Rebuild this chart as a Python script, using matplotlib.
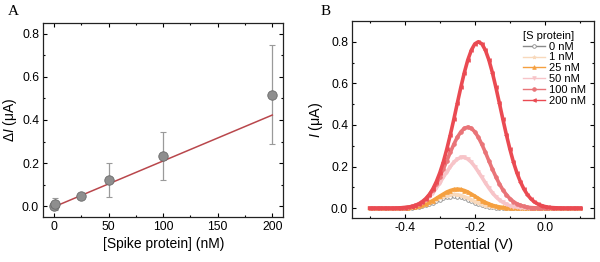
import matplotlib

matplotlib.use("Agg")
import matplotlib.pyplot as plt
import numpy as np

plt.rcParams["font.family"] = ["Liberation Sans", "DejaVu Sans"]
plt.rcParams["mathtext.fontset"] = "custom"
plt.rcParams["mathtext.rm"] = "Liberation Sans"
plt.rcParams["mathtext.it"] = "Liberation Sans:italic"

# panel A: calibration points
conc = [0, 1, 25, 50, 100, 200]
delta_i = [0.0, 0.01, 0.045, 0.122, 0.233, 0.518]
delta_err = [0.01, 0.03, 0.005, 0.078, 0.11, 0.23]
fit_slope = 0.00213
fit_intercept = -0.003

# panel B: DPV curves, sampled every 10 mV from -0.50 to 0.10 V
potential = np.round(np.arange(-0.50, 0.105, 0.01), 2)
labels = ["0 nM", "1 nM", "25 nM", "50 nM", "100 nM", "200 nM"]
cur_0 = [0, 0, 0, 0, 0, 0, 0, 0, 0, 0,
         0, 0.001, 0.003, 0.004, 0.007, 0.010, 0.014, 0.020, 0.026, 0.033,
         0.040, 0.047, 0.052, 0.056, 0.057, 0.056, 0.052, 0.047, 0.040, 0.033,
         0.026, 0.020, 0.014, 0.010, 0.007, 0.004, 0.003, 0.001, 0, 0,
         0, 0, 0, 0, 0, 0, 0, 0, 0, 0,
         0, 0, 0, 0, 0, 0, 0, 0, 0, 0, 0]
cur_1 = [0, 0, 0, 0, 0, 0, 0, 0, 0, 0,
         0.001, 0.002, 0.004, 0.006, 0.009, 0.013, 0.018, 0.025, 0.032, 0.040,
         0.048, 0.055, 0.061, 0.065, 0.066, 0.065, 0.061, 0.055, 0.048, 0.040,
         0.032, 0.025, 0.018, 0.013, 0.009, 0.006, 0.004, 0.002, 0.001, 0,
         0, 0, 0, 0, 0, 0, 0, 0, 0, 0,
         0, 0, 0, 0, 0, 0, 0, 0, 0, 0, 0]
cur_25 = [0, 0, 0, 0, 0, 0, 0, 0, 0, 0,
          0.001, 0.002, 0.004, 0.006, 0.010, 0.014, 0.021, 0.028, 0.037, 0.047,
          0.058, 0.068, 0.078, 0.085, 0.090, 0.092, 0.090, 0.085, 0.078, 0.068,
          0.058, 0.047, 0.037, 0.028, 0.021, 0.014, 0.010, 0.006, 0.004, 0.002,
          0.001, 0, 0, 0, 0, 0, 0, 0, 0, 0,
          0, 0, 0, 0, 0, 0, 0, 0, 0, 0, 0]
cur_50 = [0, 0, 0, 0, 0, 0, 0, 0, 0.001, 0.002,
          0.003, 0.005, 0.008, 0.012, 0.019, 0.028, 0.040, 0.055, 0.074, 0.097,
          0.122, 0.149, 0.175, 0.200, 0.221, 0.236, 0.244, 0.244, 0.236, 0.221,
          0.200, 0.175, 0.149, 0.122, 0.097, 0.074, 0.055, 0.040, 0.028, 0.019,
          0.012, 0.008, 0.005, 0.003, 0.002, 0.001, 0, 0, 0, 0,
          0, 0, 0, 0, 0, 0, 0, 0, 0, 0, 0]
cur_100 = [0, 0, 0, 0, 0, 0, 0, 0, 0.001, 0.002,
           0.003, 0.005, 0.009, 0.014, 0.021, 0.032, 0.046, 0.065, 0.088, 0.117,
           0.151, 0.188, 0.228, 0.269, 0.307, 0.341, 0.367, 0.384, 0.390, 0.384,
           0.367, 0.341, 0.307, 0.269, 0.228, 0.188, 0.151, 0.117, 0.088, 0.065,
           0.046, 0.032, 0.021, 0.014, 0.009, 0.005, 0.003, 0.002, 0.001, 0,
           0, 0, 0, 0, 0, 0, 0, 0, 0, 0, 0]
cur_200 = [0, 0, 0, 0, 0, 0, 0, 0, 0.001, 0.002,
           0.003, 0.005, 0.008, 0.013, 0.020, 0.030, 0.045, 0.065, 0.092, 0.127,
           0.170, 0.222, 0.284, 0.353, 0.427, 0.505, 0.581, 0.652, 0.713, 0.760,
           0.790, 0.800, 0.790, 0.760, 0.713, 0.652, 0.581, 0.505, 0.427, 0.353,
           0.284, 0.222, 0.170, 0.127, 0.092, 0.065, 0.045, 0.030, 0.020, 0.013,
           0.008, 0.005, 0.003, 0.002, 0.001, 0, 0, 0, 0, 0, 0]
curves = [cur_0, cur_1, cur_25, cur_50, cur_100, cur_200]
colors = ["#8a8a8a", "#f8d9bc", "#f5a040", "#f7c4c8", "#e97478", "#ea4a52"]
markers = ["o", "*", "^", "v", "o", "<"]


def style_axes(ax):
    ax.tick_params(which="both", direction="in", top=True, right=True,
                   labelsize=8.7, width=0.8, pad=3)
    ax.tick_params(which="major", length=3)
    ax.tick_params(which="minor", length=1.5)
    for s in ax.spines.values():
        s.set_linewidth(0.9)
        s.set_color("#222222")


fig = plt.figure(figsize=(6.0, 2.62), dpi=100)

# ---- panel A
ax1 = fig.add_axes([0.072, 0.172, 0.400, 0.740])
ax1.errorbar(conc, delta_i, yerr=delta_err, fmt="none", ecolor="#9a9a9a",
             elinewidth=0.9, capsize=2, capthick=0.8, zorder=2)
fit_x = np.array([conc[0], conc[-1]])
ax1.plot(fit_x, fit_slope * fit_x + fit_intercept, color="#b9474c", lw=1.1, zorder=3)
ax1.plot(conc, delta_i, "o", ms=6.8, mfc="#8e8e8e", mec="#6a6a6a", mew=0.6, zorder=4)
ax1.set_xlim(-10, 210)
ax1.set_ylim(-0.05, 0.85)
ax1.set_xticks([0, 50, 100, 150, 200])
ax1.set_xticks([25, 75, 125, 175], minor=True)
ax1.set_yticks([0.0, 0.2, 0.4, 0.6, 0.8])
ax1.set_yticks([0.1, 0.3, 0.5, 0.7], minor=True)
ax1.set_yticklabels(["0.0", "0.2", "0.4", "0.6", "0.8"])
ax1.set_xlabel("[Spike protein] (nM)", fontsize=10, labelpad=3)
ax1.set_ylabel(r"$\Delta\mathit{I}$ (μA)", fontsize=10, labelpad=2)
style_axes(ax1)
fig.text(0.013, 0.955, "A", fontsize=11, family="Liberation Serif", va="center")

# ---- panel B
ax2 = fig.add_axes([0.587, 0.168, 0.403, 0.752])
for cur, col, mk, lab in zip(curves, colors, markers, labels):
    face = "white" if lab == "0 nM" else col
    ax2.plot(potential, cur, color=col, lw=2.6 if lab != "0 nM" else 1.2,
             marker=mk, ms=2.6, mfc=face, mec=col, mew=0.6, label=lab)
ax2.set_xlim(-0.55, 0.14)
ax2.set_ylim(-0.047, 0.90)
ax2.set_xticks([-0.4, -0.2, 0.0])
ax2.set_xticks([-0.5, -0.3, -0.1, 0.1], minor=True)
ax2.set_xticklabels(["-0.4", "-0.2", "0.0"])
ax2.set_yticks([0.0, 0.2, 0.4, 0.6, 0.8])
ax2.set_yticks([0.1, 0.3, 0.5, 0.7], minor=True)
ax2.set_yticklabels(["0.0", "0.2", "0.4", "0.6", "0.8"])
ax2.set_xlabel("Potential (V)", fontsize=10.3, labelpad=3)
ax2.set_ylabel(r"$\mathit{I}$ (μA)", fontsize=10.3, labelpad=4)
style_axes(ax2)
leg = ax2.legend(title="[S protein]", loc="upper right", frameon=False,
                 fontsize=8, title_fontsize=8, handlelength=2.0,
                 handletextpad=0.4, labelspacing=0.08, borderaxespad=0.3,
                 bbox_to_anchor=(1.0, 0.99))
leg._legend_box.align = "left"
for h in leg.legend_handles:
    h.set_linewidth(1.0)
fig.text(0.535, 0.955, "B", fontsize=11, family="Liberation Serif", va="center")

fig.savefig("out.png", dpi=100)
plt.close(fig)
